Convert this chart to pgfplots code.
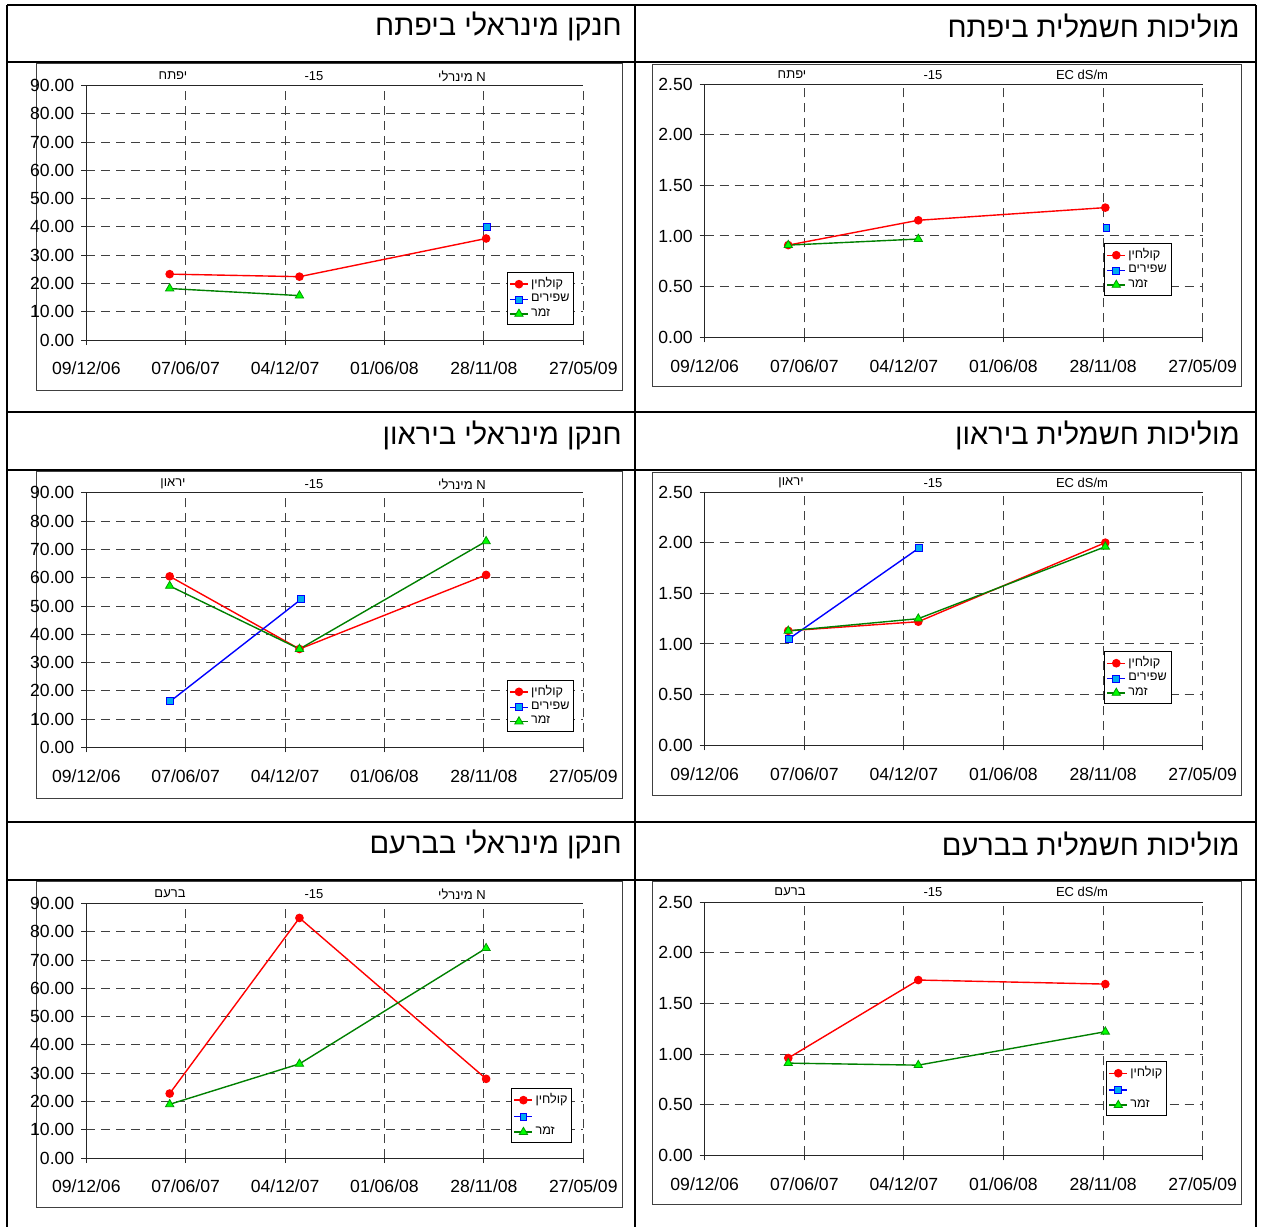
\documentclass[border=0pt]{standalone}
\usepackage{pgfplots}
\pgfplotsset{compat=1.18}
\usepackage{fontspec}
\setmainfont{Liberation Sans}
\newfontfamily\heb[Script=Hebrew]{Liberation Sans}
\TeXXeTstate=1
\newcommand\R[1]{{\heb\beginR #1\endR}}

\pgfplotsset{
  base/.style={
    scale only axis, axis lines*=left,
    axis line style={-, black!85, line width=0.5pt},
    xmin=0, xmax=900,
    xtick={0,180,360,540,720,900},
    xticklabels={09/12/06,07/06/07,04/12/07,01/06/08,28/11/08,27/05/09},
    grid=major,
    major grid style={black!75, line width=0.5pt, dash pattern=on 4.5pt off 3pt},
    tick align=outside, major tick length=2.5pt,
    tick style={black!85, line width=0.5pt},
    ticklabel style={font=\fontsize{8.8}{10}\selectfont},
    xticklabel style={yshift=-5pt},
    /pgf/number format/fixed, /pgf/number format/fixed zerofill,
    /pgf/number format/precision=2,
    /pgf/number format/assume math mode=true,
    clip=false,
    legend cell align=left,
    legend style={anchor=north west, draw=black, line width=0.5pt, fill=white,
      font=\fontsize{6.3}{7}\selectfont, inner xsep=1pt, inner ysep=0.5pt,
      row sep=-2.2pt, nodes={inner xsep=1.2pt}},
    legend image code/.code={\draw[mark repeat=2,mark phase=2]
      plot coordinates {(0pt,0pt) (4.5pt,0pt) (9pt,0pt)};},
  },
  nax/.style={base, width=248.5pt, height=127.25pt, ymin=0, ymax=90,
    ytick={0,10,20,30,40,50,60,70,80,90}},
  ecax/.style={base, width=249pt, height=126.65pt, ymin=0, ymax=2.5,
    ytick={0,0.5,1,1.5,2,2.5}},
  kol/.style={red, line width=0.7pt, mark=*, mark size=1.8pt,
    mark options={fill=red, draw=red}},
  shp/.style={blue, line width=0.7pt, mark=square*, mark size=1.7pt,
    mark options={fill=cyan, draw=blue, line width=0.5pt}},
  zmr/.style={green!50!black, line width=0.7pt, mark=triangle*, mark size=2.4pt,
    mark options={fill=green, draw=green!60!black, line width=0.4pt}},
}

\begin{document}
\begin{tikzpicture}
\begin{scope}[x=0.5pt, y=-0.5pt]
  \useasboundingbox (0,0) rectangle (1262,1227);
  \fill[white] (0,0) rectangle (1262,1227);
  % table
  \draw[line width=1pt] (7,5) -- (1256,5);
  \foreach \yy in {62,412,470,822,880} \draw[line width=1pt] (7,\yy) -- (1256,\yy);
  \foreach \xx in {7,635,1256} \draw[line width=1pt] (\xx,5) -- (\xx,1227);
  % chart frames
  \draw[black!75, line width=0.5pt] (36,63) rectangle (622,390);
  \draw[black!75, line width=0.5pt] (652,64) rectangle (1241,386);
  \draw[black!75, line width=0.5pt] (36,471) rectangle (622,798);
  \draw[black!75, line width=0.5pt] (652,472) rectangle (1241,795);
  \draw[black!75, line width=0.5pt] (36,881) rectangle (622,1207);
  \draw[black!75, line width=0.5pt] (652,881) rectangle (1241,1204);
  % titles
  \begin{scope}[every node/.style={anchor=east, inner sep=0pt, font=\fontsize{14.5}{16}\selectfont}]
    \node at (622,26) {\R{חנקן מינראלי ביפתח}};
    \node at (1240,26) {\R{מוליכות חשמלית ביפתח}};
    \node at (622,435) {\R{חנקן מינראלי ביראון}};
    \node at (1240,435) {\R{מוליכות חשמלית ביראון}};
    \node at (622,844) {\R{חנקן מינראלי בברעם}};
    \node at (1240,844) {\R{מוליכות חשמלית בברעם}};
  \end{scope}
  % small header texts
  \begin{scope}[every node/.style={font=\fontsize{6.5}{8}\selectfont, inner sep=0pt}]
    \node at (173,76) {\R{יפתח}};
    \node at (314,76) {-15};
    \node at (462,76) {\R{מינרלי}\ N};
    \node at (792,75) {\R{יפתח}};
    \node at (933,75) {-15};
    \node at (1082,75) {EC dS/m};
    \node at (173,484) {\R{יראון}};
    \node at (314,484) {-15};
    \node at (462,484) {\R{מינרלי}\ N};
    \node at (791,483) {\R{יראון}};
    \node at (933,483) {-15};
    \node at (1082,483) {EC dS/m};
    \node at (170,894) {\R{ברעם}};
    \node at (314,894) {-15};
    \node at (462,894) {\R{מינרלי}\ N};
    \node at (790,892) {\R{ברעם}};
    \node at (933,892) {-15};
    \node at (1082,892) {EC dS/m};
  \end{scope}
  \coordinate (TL) at (86.3,340);
  \coordinate (TR) at (704.7,337.3);
  \coordinate (ML) at (86.3,747.4);
  \coordinate (MR) at (704.7,745.3);
  \coordinate (BL) at (86.3,1158);
  \coordinate (BR) at (704.7,1155.3);
\end{scope}

% ---- Yiftach, mineral N
\begin{axis}[nax, at={(TL)}, anchor=south west,
  legend style={at={(0.846,0.267)}}]
  \draw[black!85, line width=0.5pt] (rel axis cs:0,1) -- (rel axis cs:1,1);
  \addplot[kol] coordinates {(151,23.3) (386,22.4) (724,35.9)};
  \addlegendentry{\R{קולחין}}
  \addplot[shp] coordinates {(726,40.0)};
  \addlegendentry{\R{שפירים}}
  \addplot[zmr] coordinates {(151,18.2) (386,15.7)};
  \addlegendentry{\R{זמר}}
\end{axis}

% ---- Yiftach, EC
\begin{axis}[ecax, at={(TR)}, anchor=south west,
  legend style={at={(0.802,0.372)}}]
  \draw[black!85, line width=0.5pt] (rel axis cs:0,1) -- (rel axis cs:1,1);
  \addplot[kol] coordinates {(151,0.91) (386,1.155) (724,1.28)};
  \addlegendentry{\R{קולחין}}
  \addplot[shp] coordinates {(726,1.08)};
  \addlegendentry{\R{שפירים}}
  \addplot[zmr] coordinates {(151,0.91) (386,0.97)};
  \addlegendentry{\R{זמר}}
\end{axis}

% ---- Yiraon, mineral N
\begin{axis}[nax, at={(ML)}, anchor=south west,
  legend style={at={(0.846,0.266)}}]
  \draw[black!85, line width=0.5pt] (rel axis cs:0,1) -- (rel axis cs:1,1);
  \addplot[kol] coordinates {(151,60.5) (386,34.8) (724,61.0)};
  \addlegendentry{\R{קולחין}}
  \addplot[shp] coordinates {(152,16.3) (389,52.4)};
  \addlegendentry{\R{שפירים}}
  \addplot[zmr] coordinates {(151,57.1) (386,34.8) (724,72.9)};
  \addlegendentry{\R{זמר}}
\end{axis}

% ---- Yiraon, EC
\begin{axis}[ecax, at={(MR)}, anchor=south west,
  legend style={at={(0.802,0.372)}}]
  \draw[black!85, line width=0.5pt] (rel axis cs:0,1) -- (rel axis cs:1,1);
  \addplot[kol] coordinates {(151,1.13) (386,1.22) (724,2.00)};
  \addlegendentry{\R{קולחין}}
  \addplot[shp] coordinates {(152,1.05) (388,1.95)};
  \addlegendentry{\R{שפירים}}
  \addplot[zmr] coordinates {(151,1.13) (386,1.25) (724,1.96)};
  \addlegendentry{\R{זמר}}
\end{axis}

% ---- Baram, mineral N
\begin{axis}[nax, at={(BL)}, anchor=south west,
  legend style={at={(0.855,0.275)}}]
  \draw[black!85, line width=0.5pt] (rel axis cs:0,1) -- (rel axis cs:1,1);
  \addplot[kol] coordinates {(151,22.8) (386,84.9) (724,28.0)};
  \addlegendentry{\R{קולחין}}
  \addlegendimage{shp}
  \addlegendentry{\strut}
  \addplot[zmr] coordinates {(151,19.0) (386,33.3) (724,74.2)};
  \addlegendentry{\R{זמר}}
\end{axis}

% ---- Baram, EC
\begin{axis}[ecax, at={(BR)}, anchor=south west,
  legend style={at={(0.806,0.372)}}]
  \draw[black!85, line width=0.5pt] (rel axis cs:0,1) -- (rel axis cs:1,1);
  \addplot[kol] coordinates {(151,0.96) (386,1.73) (724,1.69)};
  \addlegendentry{\R{קולחין}}
  \addlegendimage{shp}
  \addlegendentry{\strut}
  \addplot[zmr] coordinates {(151,0.91) (386,0.89) (724,1.22)};
  \addlegendentry{\R{זמר}}
\end{axis}
\end{tikzpicture}
\end{document}
